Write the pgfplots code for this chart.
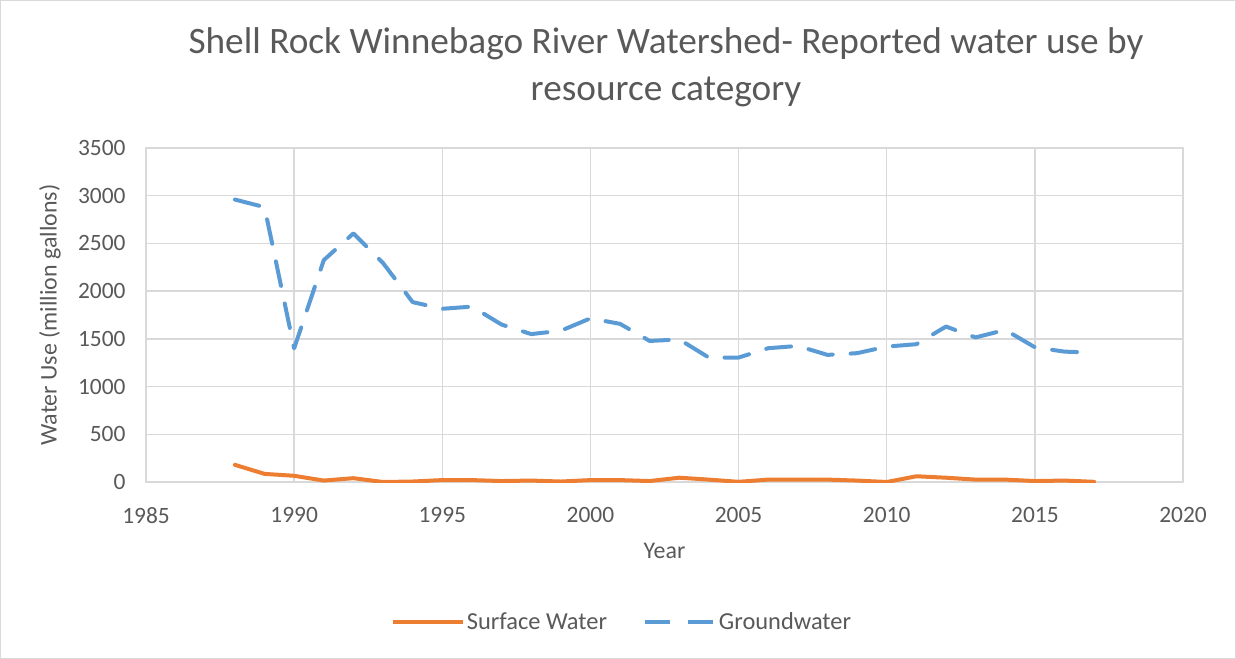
\documentclass[border=0pt]{standalone}
\usepackage{pgfplots}
\pgfplotsset{compat=1.18}
\usepackage{fontspec}
\setmainfont{Carlito}
\definecolor{txt}{HTML}{595959}
\definecolor{gridc}{HTML}{D9D9D9}
\definecolor{sw}{HTML}{ED7D31}
\definecolor{gw}{HTML}{5B9BD5}
\begin{document}
\begin{tikzpicture}
\draw[gridc, line width=1bp] (-145.5bp,-176.5bp) rectangle (1089.5bp,481.5bp);
\begin{axis}[
  at={(0,0)}, anchor=south west,
  scale only axis, width=1037bp, height=334bp,
  xmin=1985, xmax=2020, ymin=0, ymax=3500,
  xtick={1985,1990,...,2020}, ytick={0,500,...,3500},
  /pgf/number format/1000 sep={},
  /pgf/number format/assume math mode=true,
  major tick length=0pt,
  grid=major,
  major grid style={gridc, line width=1.3bp},
  axis line style={gridc, line width=1.3bp},
  tick label style={font=\fontsize{23.5}{23.5}\selectfont, text=txt},
  xticklabel style={yshift=-22bp},
  yticklabel style={xshift=-17bp},
  title={Shell Rock Winnebago River Watershed- Reported water use by\\resource category},
  title style={at={(axis description cs:0.50145,1.2231)}, anchor=center, align=center,
    font=\fontsize{37.4}{47}\selectfont, text=txt},
  xlabel={Year},
  every axis x label/.style={at={(axis description cs:0.5,-0.2066)}, anchor=center,
    font=\fontsize{24}{24}\selectfont, text=txt},
  ylabel={Water Use (million gallons)},
  every axis y label/.style={at={(axis description cs:-0.0926,0.5)}, anchor=center, rotate=90,
    font=\fontsize{24}{24}\selectfont, text=txt},
  legend columns=2,
  legend style={at={(axis description cs:0.459,-0.419)}, anchor=center, draw=none,
    font=\fontsize{24.5}{24.5}\selectfont, text=txt,
    /tikz/every even column/.append style={column sep=34bp}},
  legend image code/.code={\draw[#1] (0bp,0bp) -- (70bp,0bp);},
  line cap=round, line join=round,
]
\addplot[sw, line width=4bp, mark=none] coordinates {
(1988,180) (1989,85) (1990,65) (1991,15) (1992,40) (1993,0) (1994,5) (1995,20)
(1996,20) (1997,10) (1998,15) (1999,5) (2000,20) (2001,20) (2002,10) (2003,45)
(2004,25) (2005,2) (2006,25) (2007,25) (2008,25) (2009,15) (2010,0) (2011,60)
(2012,45) (2013,25) (2014,25) (2015,10) (2016,15) (2017,2)
};
\addlegendentry{Surface Water}
\addplot[gw, line width=4bp, mark=none, dash pattern=on 25bp off 18bp] coordinates {
(1988,2960) (1989,2880) (1990,1400) (1991,2325) (1992,2605) (1993,2295) (1994,1885)
(1995,1815) (1996,1838) (1997,1650) (1998,1550) (1999,1585) (2000,1715) (2001,1657)
(2002,1478) (2003,1494) (2004,1303) (2005,1304) (2006,1402) (2007,1426) (2008,1332)
(2009,1350) (2010,1419) (2011,1444) (2012,1629) (2013,1515) (2014,1594) (2015,1412)
(2016,1366) (2017,1356)
};
\addlegendentry{Groundwater}
\end{axis}
\end{tikzpicture}
\end{document}
